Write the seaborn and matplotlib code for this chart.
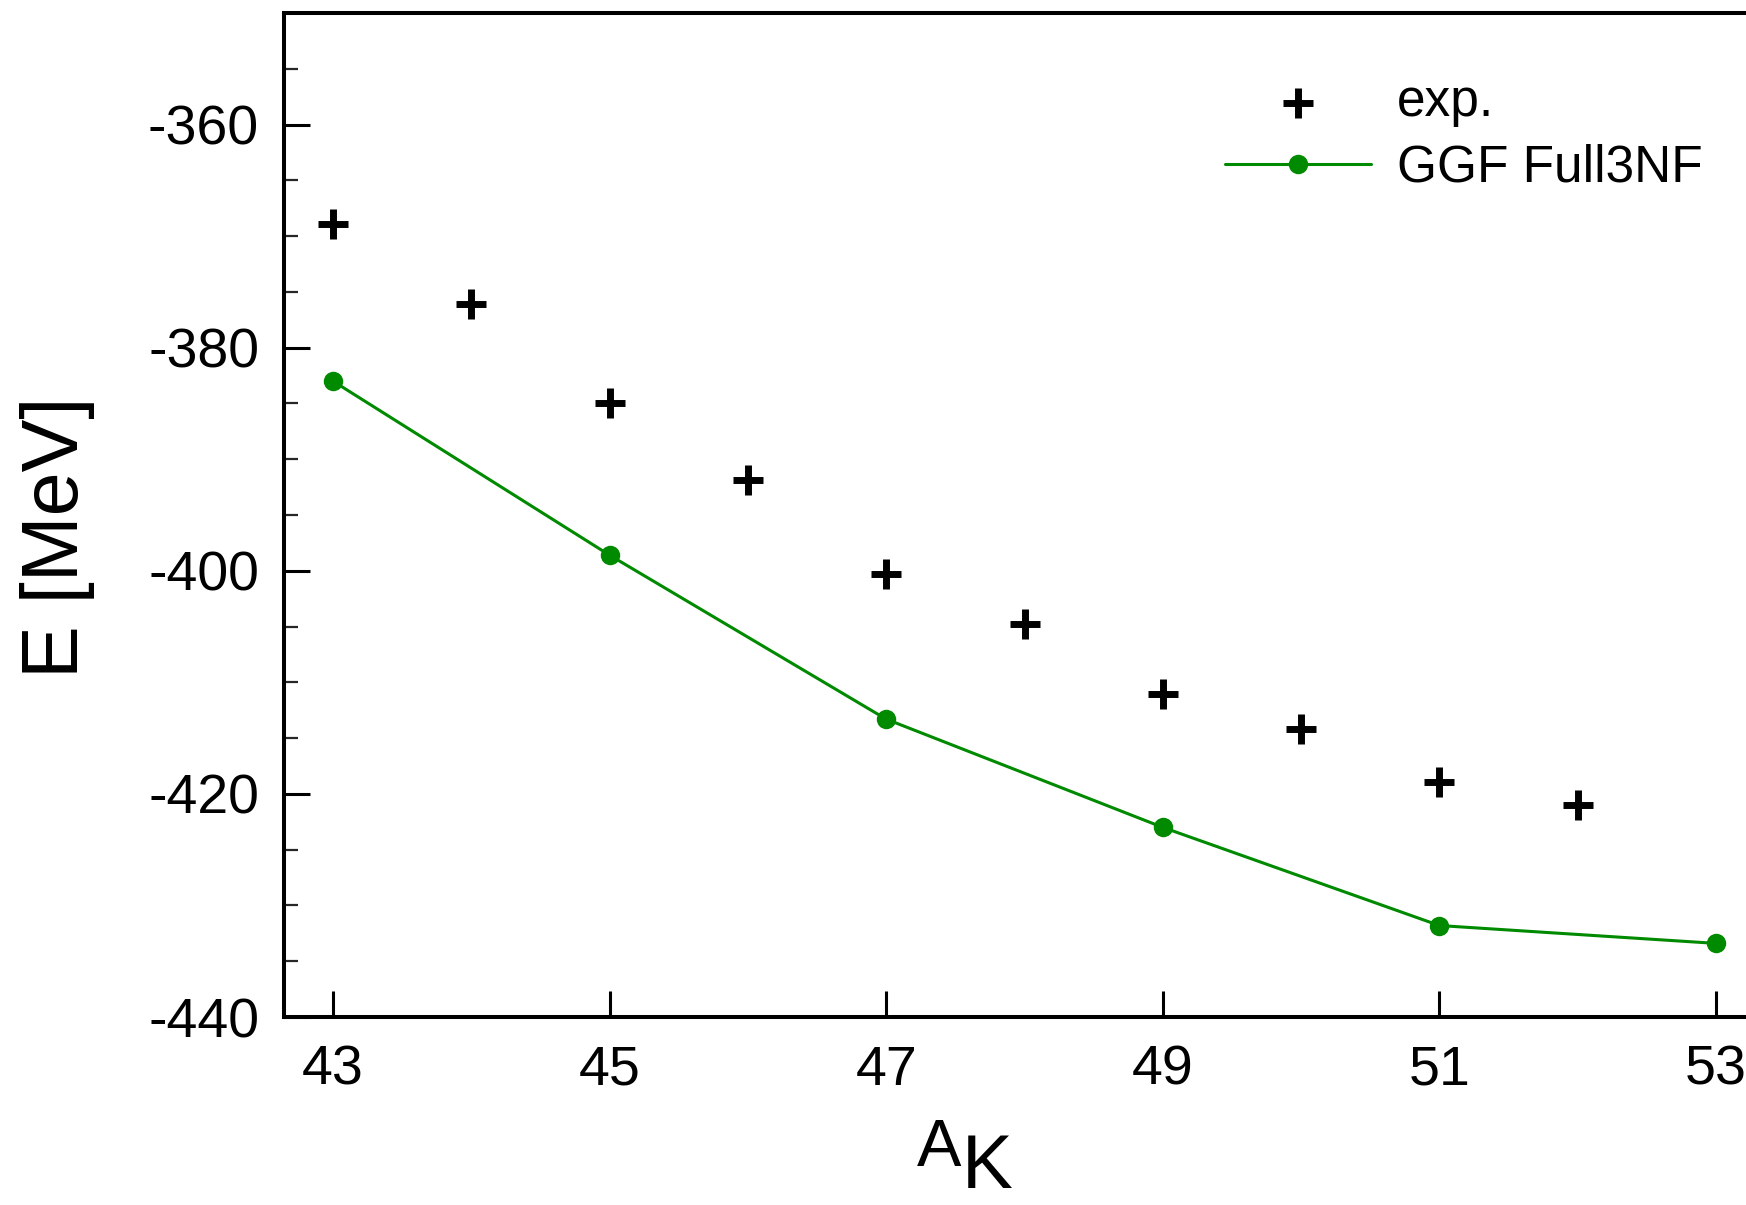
import pandas as pd
import matplotlib.pyplot as plt
import seaborn as sns
from matplotlib.markers import MarkerStyle

# values
exp_A = [43, 44, 45, 46, 47, 48, 49, 50, 51, 52]
exp_E = [-368.9, -376.1, -385.0, -391.9, -400.3, -404.8, -411.0, -414.2, -418.9, -421.0]
ggf_A = [43, 45, 47, 49, 51, 53]
ggf_E = [-383.0, -398.6, -413.3, -423.0, -431.8, -433.4]

exp_df = pd.DataFrame({'A': exp_A, 'E': exp_E})
ggf_df = pd.DataFrame({'A': ggf_A, 'E': ggf_E})

sns.set_style('ticks')
plt.rcParams['font.family'] = ['Liberation Sans', 'DejaVu Sans']
plt.rcParams['axes.unicode_minus'] = False
plt.rcParams['text.color'] = 'black'
plt.rcParams['axes.labelcolor'] = 'black'

green = '#008a00'

fig = plt.figure(figsize=(17.46, 12.05), dpi=100)
ax = fig.add_axes([0.1627, 0.156, 1.0 - 0.1627, 0.8332])

plus = MarkerStyle('+', capstyle='round')
sns.scatterplot(data=exp_df, x='A', y='E', marker=plus, s=450, linewidth=5.0,
                color='black', label='exp.', ax=ax, zorder=3, clip_on=False)
sns.lineplot(data=ggf_df, x='A', y='E', marker='o', markersize=14, color=green,
             linewidth=2.2, markeredgewidth=0, label='GGF Full3NF', ax=ax,
             zorder=2, clip_on=False)

ax.set_xlim(42.646, 53.217)
ax.set_ylim(-440, -350)
ax.set_xticks([43, 45, 47, 49, 51, 53])
ax.set_yticks([-440, -420, -400, -380, -360])
ax.set_yticks(range(-435, -350, 5), minor=True)

for side in ['left', 'bottom', 'top']:
    ax.spines[side].set_linewidth(2.9)
    ax.spines[side].set_color('black')
ax.spines['right'].set_visible(False)

ax.tick_params(axis='both', which='major', direction='in', length=19, width=2.2,
               labelsize=40, colors='black')
ax.tick_params(axis='y', which='minor', direction='in', length=10, width=1.6)
ax.tick_params(axis='x', which='major', pad=20)
ax.tick_params(axis='y', which='major', pad=18)

ax.set_xlabel('')
ax.set_ylabel('E [MeV]', fontsize=57)
ax.yaxis.set_label_coords(-0.129, 0.478)

# x-axis label: mass number A (raised, smaller) followed by K
fig.text(917 / 1746, 1 - 1166 / 1205, 'A', fontsize=48, ha='left', va='baseline')
fig.text(962 / 1746, 1 / 1205, 'K', fontsize=55, ha='left', va='bottom')

leg = ax.legend(loc='upper left', bbox_to_anchor=(1225 / 1746, 1 - 78 / 1205),
                bbox_transform=fig.transFigure, frameon=False, fontsize=37,
                handlelength=2.85, handletextpad=0.5, labelspacing=0.33,
                borderpad=0, borderaxespad=0)

fig.savefig('out.png', dpi=100)
